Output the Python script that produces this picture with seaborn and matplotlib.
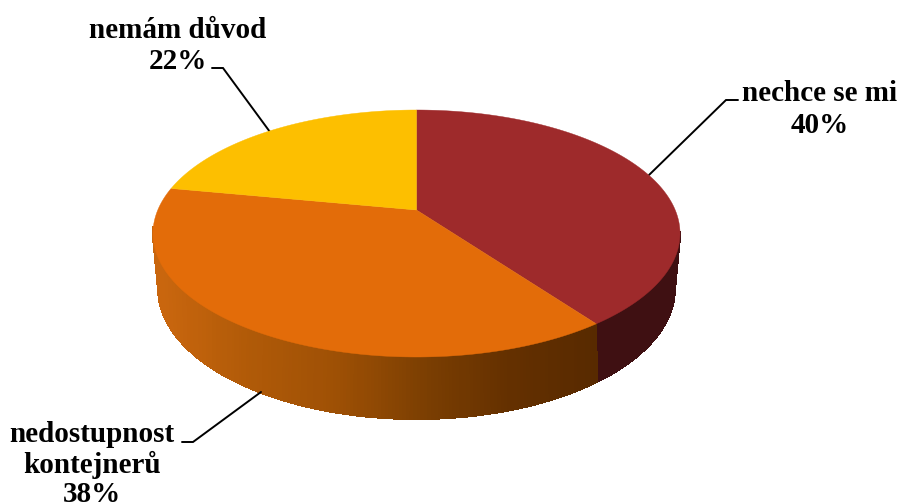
import numpy as np
import matplotlib
matplotlib.use("Agg")
import matplotlib.pyplot as plt
import seaborn as sns

CATEGORIES = ["nechce se mi", "nedostupnost\nkontejnerů", "nemám důvod"]
SHARES = [40, 38, 22]
TOP_COLORS = ["#9E2A2B", "#E36C09", "#FDBF00"]
SIDE_STOPS = [
    ["#3F1012", "#3F1012"],
    ["#C9660E", "#B05A08", "#9E5005", "#7C3F02", "#643000", "#582A00"],
    ["#7F6000", "#7F6000"],
]
LABEL_CENTERS = [820, 92, 178]
LABEL_BASELINES = [[101, 133], [442, 473, 502], [38, 69]]
LEADERS_X = [[649, 726, 738], [261, 193, 182], [270, 223, 212]]
LEADERS_Y = [[175, 100, 100], [392, 442, 442], [132, 68, 68]]

# only this arc of the wall faces the viewer
WALL_FROM = np.radians(100)
WALL_TO = np.radians(262)


def top_face(theta):
    # circle to screen, with the perspective of a tilted disc
    w = 1 + 0.1903 * np.cos(theta)
    x = 416.5 + 258.7 * np.sin(theta) / w
    y = (210 - 79.07 * np.cos(theta)) / w
    return x, y


def bottom_face(theta):
    w = 1 + 0.22 * np.cos(theta)
    x = 416.5 + 252 * np.sin(theta) / w
    y = (259.8 - 67 * np.cos(theta)) / w
    return x, y


def draw_side(ax, start, end, stops):
    start, end = max(start, WALL_FROM), min(end, WALL_TO)
    if end <= start:
        return
    theta = np.linspace(start, end, int((end - start) * 90) + 2)
    top_x, top_y = top_face(theta)
    low_x, low_y = bottom_face(theta)
    shades = sns.blend_palette(stops, n_colors=120)
    for i in range(len(theta) - 1):
        xs = [top_x[i], top_x[i + 1], low_x[i + 1], low_x[i]]
        ys = [top_y[i], top_y[i + 1], low_y[i + 1], low_y[i]]
        # shade follows screen position, not the angle
        pos = np.clip((np.mean(xs) - 160) / (595 - 160), 0, 1)
        color = shades[int(pos * 119)]
        ax.fill(xs, ys, color=color, lw=0.8, antialiased=False, zorder=1)


def draw_top(ax, start, end, color):
    theta = np.linspace(start, end, 300)
    x, y = top_face(theta)
    ax.fill(np.r_[416.5, x], np.r_[210, y], color=color, lw=0.3, zorder=3)


def main():
    sns.set_theme(style="white")
    plt.rcParams["font.family"] = ["Liberation Serif", "DejaVu Serif"]

    fig = plt.figure(figsize=(8.99, 5.04), dpi=100)
    ax = fig.add_axes([0, 0, 1, 1])
    ax.set_xlim(0, 899)
    ax.set_ylim(504, 0)
    ax.axis("off")

    edges = np.r_[0, np.cumsum(SHARES)] / sum(SHARES) * 2 * np.pi
    # back slice first so the front of the wall lands on top
    for i in [2, 0, 1]:
        draw_side(ax, edges[i], edges[i + 1], SIDE_STOPS[i])
    for i in range(3):
        draw_top(ax, edges[i], edges[i + 1], TOP_COLORS[i])

    for i, name in enumerate(CATEGORIES):
        ax.plot(LEADERS_X[i], LEADERS_Y[i], color="black", lw=1.4, zorder=2,
                solid_joinstyle="miter")
        lines = name.split("\n") + [f"{SHARES[i]}%"]
        for line, base in zip(lines, LABEL_BASELINES[i]):
            ax.text(LABEL_CENTERS[i], base, line, ha="center", va="baseline",
                    fontsize=21, fontweight="bold", color="black", zorder=4)

    fig.savefig("out.png", dpi=100)
    plt.close(fig)


if __name__ == "__main__":
    main()
